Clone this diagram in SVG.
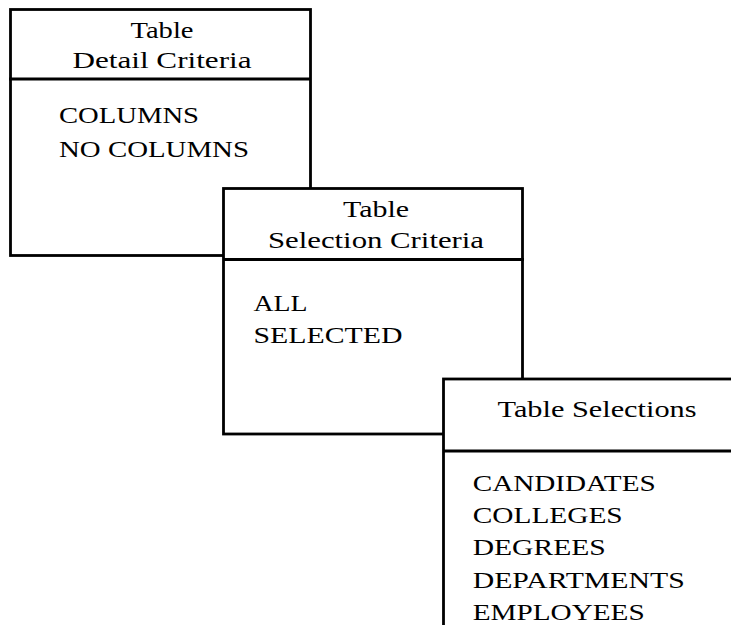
<svg xmlns="http://www.w3.org/2000/svg" width="731" height="625" viewBox="0 0 731 625">
<style>
.box{fill:#fff;stroke:#000;stroke-width:2.8}
.ln{stroke:#000;stroke-width:2.8;fill:none}
text{font-family:"Liberation Serif","DejaVu Serif",serif;font-size:24px;fill:#000}
.c{text-anchor:middle}
</style>
<rect width="731" height="625" fill="#fff"/>
<g id="detail-criteria">
<rect class="box" x="10.5" y="9.5" width="300" height="246"/>
<line class="ln" x1="9" y1="79" x2="310.5" y2="79"/>
<text class="c" x="162" y="37.5" textLength="63" lengthAdjust="spacingAndGlyphs">Table</text>
<text class="c" x="162" y="68" textLength="179" lengthAdjust="spacingAndGlyphs">Detail Criteria</text>
<text x="59" y="123" textLength="140" lengthAdjust="spacingAndGlyphs">COLUMNS</text>
<text x="59" y="156.5" textLength="190" lengthAdjust="spacingAndGlyphs">NO COLUMNS</text>
</g>
<g id="selection-criteria">
<rect class="box" x="223.5" y="188.5" width="299" height="245.5"/>
<line class="ln" x1="223.5" y1="259.5" x2="524" y2="259.5"/>
<text class="c" x="376" y="216.5" textLength="66" lengthAdjust="spacingAndGlyphs">Table</text>
<text class="c" x="376" y="248.3" textLength="216" lengthAdjust="spacingAndGlyphs">Selection Criteria</text>
<text x="253.5" y="311" textLength="54" lengthAdjust="spacingAndGlyphs">ALL</text>
<text x="253.5" y="342.7" textLength="149" lengthAdjust="spacingAndGlyphs">SELECTED</text>
</g>
<g id="table-selections">
<rect class="box" x="443.5" y="379" width="300" height="260"/>
<line class="ln" x1="443.5" y1="451" x2="731" y2="451"/>
<text class="c" x="597" y="417.3" textLength="199" lengthAdjust="spacingAndGlyphs">Table Selections</text>
<text x="472.7" y="491" textLength="183" lengthAdjust="spacingAndGlyphs">CANDIDATES</text>
<text x="472.7" y="523.3" textLength="150" lengthAdjust="spacingAndGlyphs">COLLEGES</text>
<text x="472.7" y="555.3" textLength="133" lengthAdjust="spacingAndGlyphs">DEGREES</text>
<text x="472.7" y="587.7" textLength="212" lengthAdjust="spacingAndGlyphs">DEPARTMENTS</text>
<text x="472.7" y="619.5" textLength="172" lengthAdjust="spacingAndGlyphs">EMPLOYEES</text>
</g>
<g id="connectors"></g>
</svg>
